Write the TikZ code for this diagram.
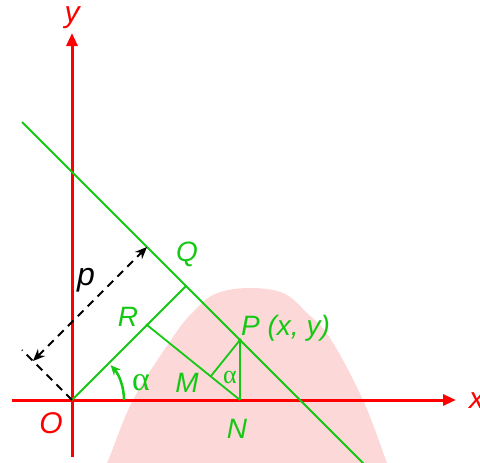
\documentclass[tikz,border=0pt]{standalone}
\usepackage{fontspec}
\setmainfont{Liberation Sans}
\newfontfamily\grserif{Liberation Serif}
\usetikzlibrary{arrows.meta,calc}
\definecolor{gline}{RGB}{20,200,20}
\definecolor{axred}{RGB}{255,0,0}
\definecolor{wmpink}{RGB}{253,216,216}
\begin{document}
\begin{tikzpicture}[x=1pt,y=-1pt,
  axis/.style={draw=axred,line width=3pt,-{Triangle[length=13pt,width=11pt]}},
  geo/.style={draw=gline,line width=1.8pt},
  dimline/.style={draw=black,line width=2pt,dash pattern=on 8pt off 6pt},
  lbl/.style={text=gline,font=\fontsize{28}{32}\selectfont\itshape,inner sep=0pt},
  axlbl/.style={text=axred,font=\fontsize{30}{34}\selectfont\itshape,inner sep=0pt},
  alph/.style={text=gline,inner sep=0pt}
]
\useasboundingbox (0,0) rectangle (480,463);
% watermark
\fill[wmpink] plot[smooth,tension=0.6] coordinates {(100,470) (107,463) (133,400) (173,337) (193,312) (215,294) (248,288) (283,293) (307,313) (330,338) (363,400) (387,463) (390,470)} -- cycle;
% points
\coordinate (O) at (72,400);
\coordinate (Q) at (186,286);
\coordinate (P) at (240,340);
\coordinate (N) at (240,400);
\coordinate (R) at (147,325);
\coordinate (L1) at (22,122);
\coordinate (L2) at (366,466);
\coordinate (M) at ($(R)!(P)!(N)$);
\coordinate (Xb) at (22,350);
\coordinate (E) at ($(O)+(-39,-39)$);
\coordinate (F) at ($(Q)+(-39,-39)$);
\coordinate (YB) at (72,457);
\coordinate (YT) at (72,33);
\coordinate (XL) at (12,400);
\coordinate (XR) at (456,400);
\coordinate (A0) at (124,400);
% axes
\draw[axis] (YB) -- (YT);
\draw[axis] (XL) -- (XR);
% green geometry
\draw[geo] (L1) -- (L2);
\draw[geo] (O) -- (Q);
\draw[geo] (R) -- (N);
\draw[geo] (P) -- (M);
\draw[geo] (P) -- (N);
\fill[gline] (P) circle (1.8);
\fill[gline] (R) circle (1.6);
\draw[draw=gline,line width=2.5pt,-{Stealth[length=10pt,width=9pt]}] (A0) arc[start angle=0,end angle=-42,radius=52];
% p dimension
\draw[dimline] (O) -- (Xb);
\draw[dimline,{Stealth[length=12pt,width=10pt]}-{Stealth[length=12pt,width=10pt]}] (E) -- (F);
% labels
\node[lbl] (lQ) at (187,254) {Q};
\node[lbl] (lR) at (128,317) {R};
\node[lbl,anchor=base west] (lP) at (241,335) {P (x, y)};
\node[lbl] (lM) at (187,383) {M};
\node[lbl] (lN) at (237,429) {N};
\node[axlbl] (lO) at (51,423) {O};
\node[axlbl,anchor=base,text height=16pt,text depth=6pt] (ly) at (72,22) {y};
\node[axlbl,anchor=west] (lx) at (469,401) {x};
\node[font=\fontsize{32}{36}\selectfont\itshape,inner sep=0pt] (lp) at (86,280) {p};
\node[alph,font=\fontsize{34}{38}\grserif] (la1) at (141,383) {α};
\node[alph,font=\fontsize{26}{30}\grserif] (la2) at (230,377) {α};
\end{tikzpicture}
\end{document}
